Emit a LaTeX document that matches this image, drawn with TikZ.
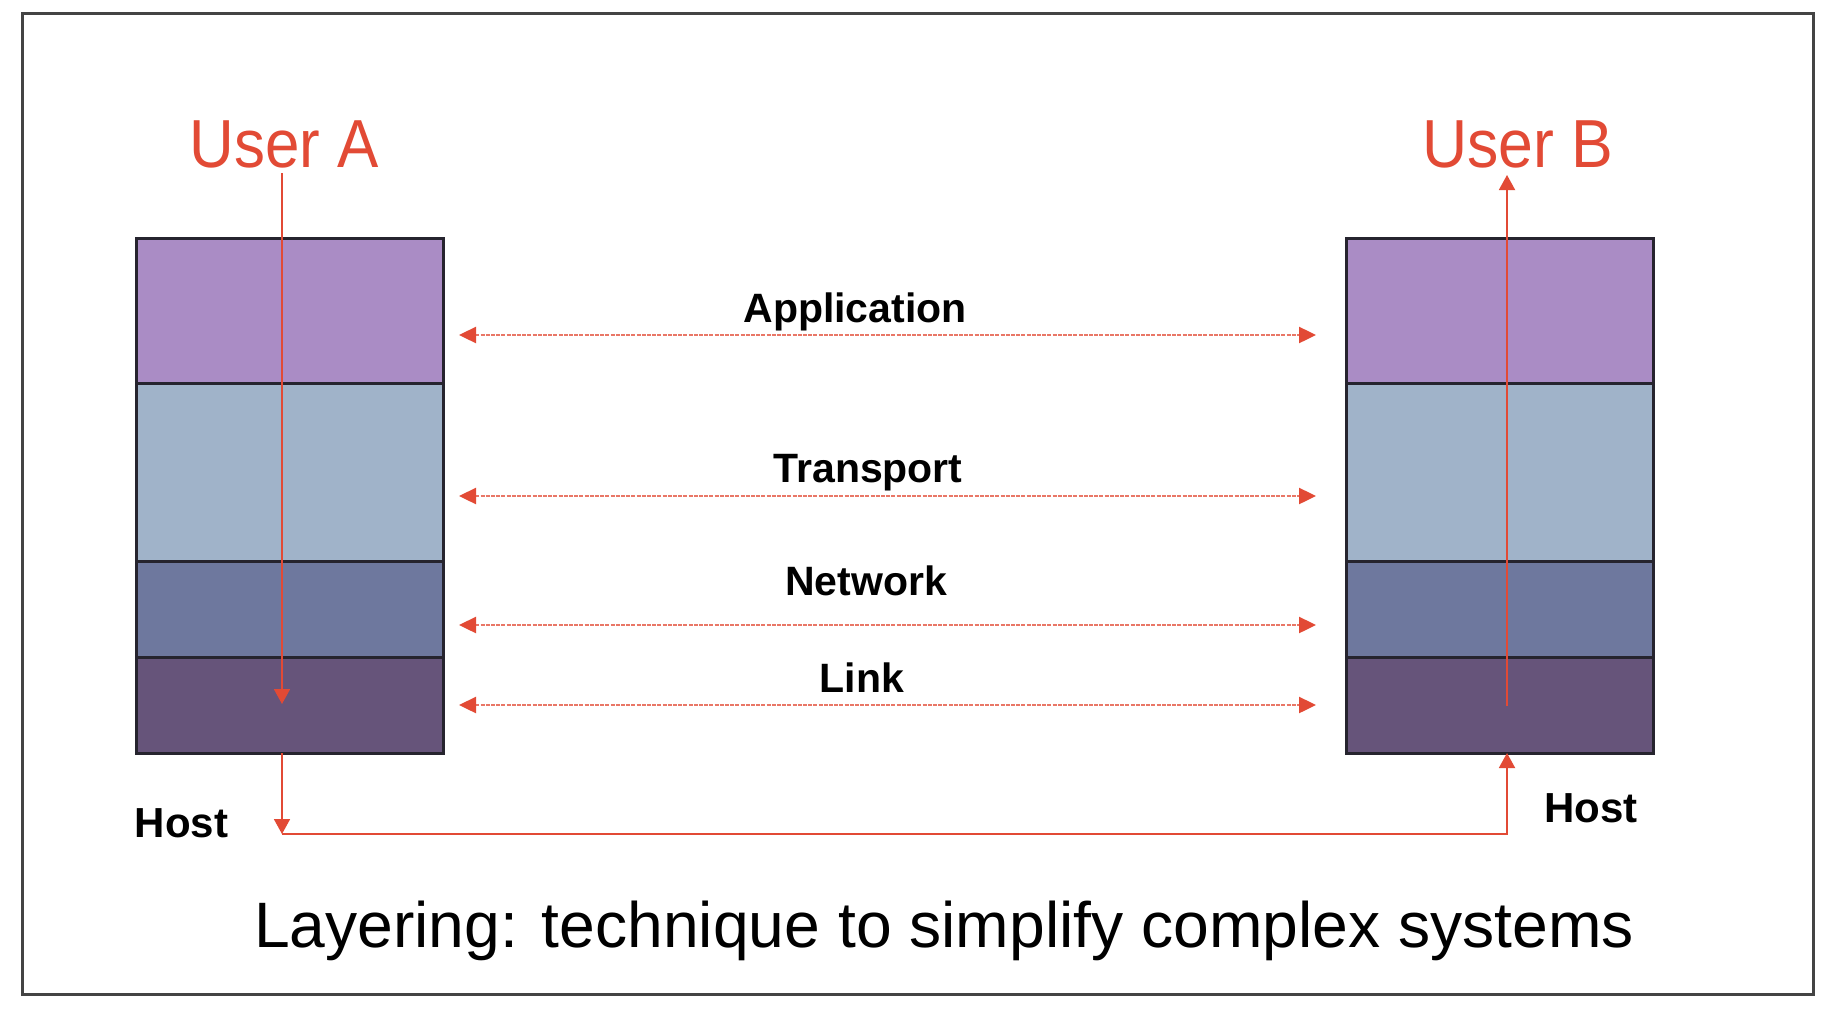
\documentclass[tikz,border=0pt]{standalone}
\usepackage{fontspec}
\usepackage{graphicx}
\setmainfont{Liberation Sans}
\usetikzlibrary{arrows.meta}
\definecolor{appc}{HTML}{AA8CC5}
\definecolor{trac}{HTML}{A0B3C9}
\definecolor{netc}{HTML}{6E789E}
\definecolor{linc}{HTML}{66547A}
\definecolor{edgec}{HTML}{26242E}
\definecolor{redc}{HTML}{E24A35}
\definecolor{framec}{HTML}{444444}
\tikzset{
  layer/.style={draw=edgec, line width=3pt, minimum width=307pt, inner sep=0pt, outer sep=0pt},
  redline/.style={draw=redc, line width=1.8pt},
  tip/.style={-{Triangle[length=15pt,width=16pt]}},
  peer/.style={draw=redc!75, line width=2.4pt, dash pattern=on 4pt off 1.2pt,
    {Triangle[length=17pt,width=16pt,color=redc,fill=redc]}-{Triangle[length=17pt,width=16pt,color=redc,fill=redc]}},
  lbl/.style={font=\bfseries\fontsize{41}{41}\selectfont, anchor=base, inner sep=0pt},
  user/.style={text=redc, font=\fontsize{68}{68}\selectfont, anchor=base, inner sep=0pt},
}
\begin{document}
\begin{tikzpicture}[x=1pt,y=-1pt]
\useasboundingbox (0,0) rectangle (1846,1028);
\fill[white] (0,0) rectangle (1846,1028);
\draw[framec, line width=3pt] (22,13) rectangle (1813,994);

% left stack
\node[layer, fill=appc, minimum height=145pt] (a1) at (289.5,310.5) {};
\node[layer, fill=trac, minimum height=178pt] (a2) at (289.5,472) {};
\node[layer, fill=netc, minimum height=96pt] (a3) at (289.5,609) {};
\node[layer, fill=linc, minimum height=96pt] (a4) at (289.5,705) {};
% right stack
\node[layer, fill=appc, minimum height=145pt] (b1) at (1499.5,310.5) {};
\node[layer, fill=trac, minimum height=178pt] (b2) at (1499.5,472) {};
\node[layer, fill=netc, minimum height=96pt] (b3) at (1499.5,609) {};
\node[layer, fill=linc, minimum height=96pt] (b4) at (1499.5,705) {};

% users
\node[user] (ua) at (284,167) {\scalebox{0.91}[1]{User A}};
\node[user] (ub) at (1518,167) {\scalebox{0.92}[1]{User B}};

% hosts
\node[lbl, font=\bfseries\fontsize{42}{42}\selectfont] (ha) at (181.5,837) {Host};
\node[lbl, font=\bfseries\fontsize{42}{42}\selectfont] (hb) at (1591,822) {Host};

% peer labels
\node[lbl] (lapp) at (855,322) {Application};
\node[lbl] (ltra) at (868,482) {Transport};
\node[lbl] (lnet) at (866,595) {Network};
\node[lbl] (llin) at (862,692) {Link};

% peer arrows
\coordinate (pa1) at (459,335); \coordinate (pa2) at (1316,335);
\coordinate (pt1) at (459,496); \coordinate (pt2) at (1316,496);
\coordinate (pn1) at (459,625); \coordinate (pn2) at (1316,625);
\coordinate (pl1) at (459,705); \coordinate (pl2) at (1316,705);
\draw[peer] (pa1) -- (pa2);
\draw[peer] (pt1) -- (pt2);
\draw[peer] (pn1) -- (pn2);
\draw[peer] (pl1) -- (pl2);

% data path
\coordinate (sa) at (282,173);
\coordinate (ea) at (282,704);
\coordinate (ba) at (282,753);
\coordinate (ca) at (282,834);
\coordinate (cb) at (1507,834);
\coordinate (bb) at (1507,753);
\coordinate (sb) at (1507,706);
\coordinate (eb) at (1507,175);
\draw[redline, tip] (sa) -- (ea);
\draw[redline, tip] (ba) -- (ca);
\draw[redline, tip] (ca) -- (cb) -- (bb);
\draw[redline, tip] (sb) -- (eb);

% caption
\node[anchor=base, inner sep=0pt, font=\fontsize{64.2}{65}\selectfont] (cap) at (944,947) {Layering: technique to simplify complex systems};
\end{tikzpicture}
\end{document}
